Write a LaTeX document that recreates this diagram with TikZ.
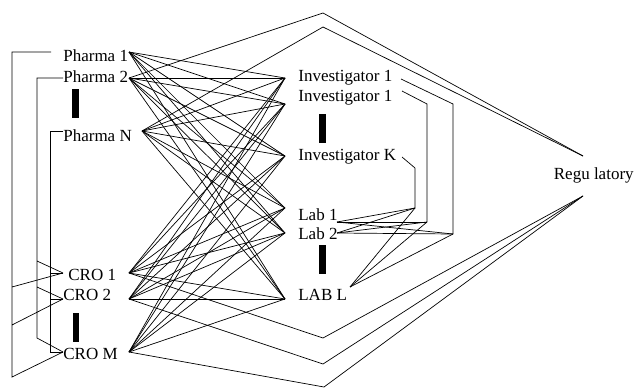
\documentclass[tikz,border=0pt]{standalone}
\usepackage{fontspec}
\setmainfont{Liberation Serif}
\usetikzlibrary{positioning}

\begin{document}
\begin{tikzpicture}[x=1pt,y=-1pt,line width=0.7pt,
    lbl/.style={anchor=base west,inner sep=0pt,font=\fontsize{17}{20}\selectfont},
    more/.style={fill=black}]
    \useasboundingbox (0,0) rectangle (634,388);

    % sponsors and CROs
    \node[lbl] (ph1) at (63,61) {Pharma 1};
    \node[lbl] (ph2) at (63,82) {Pharma 2};
    \node[lbl] (phN) at (63,141) {Pharma N};
    \node[lbl] (cro1) at (68,280) {CRO 1};
    \node[lbl] (cro2) at (63,300) {CRO 2};
    \node[lbl] (croM) at (63,359) {CRO M};
    % sites
    \node[lbl] (inv1) at (298,81) {Investigator 1};
    \node[lbl] (inv2) at (298,101) {Investigator 1};
    \node[lbl] (invK) at (298,160) {Investigator K};
    \node[lbl] (lab1) at (298,220) {Lab 1};
    \node[lbl] (lab2) at (298,239) {Lab 2};
    \node[lbl] (labL) at (298,300) {LAB L};
    \node[lbl,anchor=base east] (reg) at (634,179) {Regu latory};

    \fill[more] (72,89) rectangle (79,118);
    \fill[more] (73,313) rectangle (79,342);
    \fill[more] (319,114) rectangle (326,143);
    \fill[more] (319,245) rectangle (326,274);

    % ports
    \coordinate (ph1-in) at (51,52);   \coordinate (ph1-out) at (129,52);
    \coordinate (ph2-in) at (63,78);   \coordinate (ph2-out) at (129,78);
    \coordinate (phN-in) at (63,131);  \coordinate (phN-out) at (142,131);
    \coordinate (cro1-in) at (63,273); \coordinate (cro1-out) at (129,273);
    \coordinate (cro2-in) at (63,299); \coordinate (cro2-out) at (129,299);
    \coordinate (croM-in) at (63,352); \coordinate (croM-out) at (129,352);
    \coordinate (inv1-in) at (285,78);  \coordinate (inv1-out) at (401,79);
    \coordinate (inv2-in) at (285,104); \coordinate (inv2-out) at (402,91);
    \coordinate (invK-in) at (285,156); \coordinate (invK-out) at (402,157);
    \coordinate (lab1-in) at (285,208); \coordinate (lab1-out) at (337,222);
    \coordinate (lab2-in) at (285,233); \coordinate (lab2-out) at (337,233);
    \coordinate (labL-in) at (285,299); \coordinate (labL-out) at (350,287);
    \coordinate (reg-top) at (583,156); \coordinate (reg-bot) at (583,196);

    \foreach \s in {ph1,ph2,phN,cro1,cro2,croM}
        \foreach \t in {inv1,inv2,invK,lab1,lab2,labL}
            \draw (\s-out) -- (\t-in);

    \foreach \p/\x/\a/\b/\c in {ph1/12/287/325/377, ph2/37/261/287/338, phN/50/273/299/352}
        \draw (\p-in) -| (\x,\c) -- (croM-in) (\x,\a) -- (cro1-in) (\x,\b) -- (cro2-in);

    \foreach \i/\x/\y/\e in {inv1/453/104/234, inv2/427/104/222, invK/415/168/208} {
        \draw (\i-out) -- (\x,\y) -- (\x,\e) coordinate (\i-j);
        \foreach \l in {lab1,lab2,labL}
            \draw (\i-j) -- (\l-out);
    }

    \draw (ph2-out) -- (323,13) -- (reg-top);
    \draw (phN-out) -- (323,27) -- (reg-top);
    \draw (cro1-out) -- (323,338) -- (reg-bot);
    \draw (cro2-out) -- (323,364) -- (reg-bot);
    \draw (croM-out) -- (324,387) -- (reg-bot);
\end{tikzpicture}
\end{document}
